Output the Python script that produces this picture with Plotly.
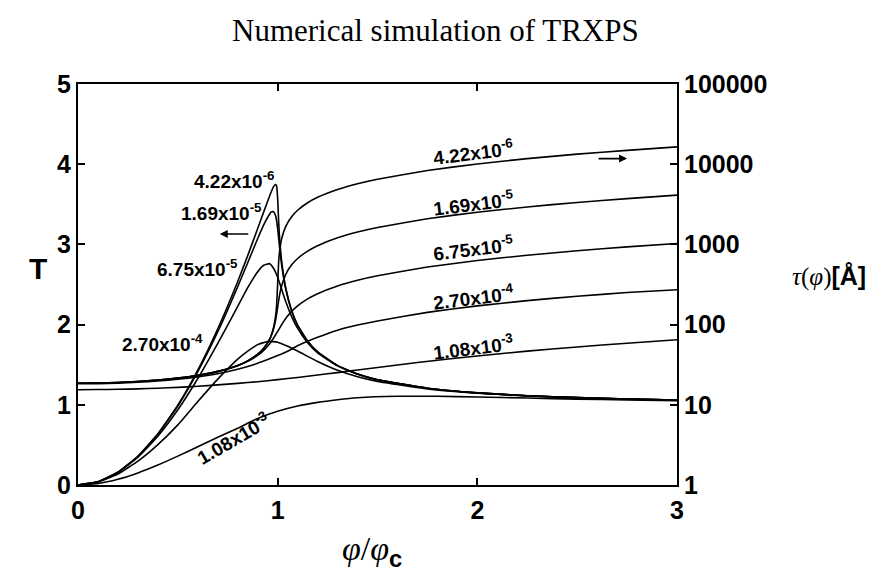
import plotly.graph_objects as go

# ---------------- data ----------------
# phi/phi_c grids
phi_a = [0, 0.1, 0.2, 0.3, 0.4, 0.5, 0.6, 0.7, 0.8, 0.85, 0.9, 0.93, 0.96, 0.97, 0.98,
         0.99, 0.995, 1.0, 1.005, 1.01, 1.02, 1.04, 1.07, 1.1, 1.15, 1.2, 1.3, 1.4, 1.5,
         1.75, 2.0, 2.25, 2.5, 2.75, 3.0]
phi_b = [0, 0.1, 0.2, 0.3, 0.4, 0.5, 0.6, 0.7, 0.8, 0.85, 0.9, 0.93, 0.96, 0.98, 1.0,
         1.02, 1.04, 1.07, 1.1, 1.15, 1.2, 1.3, 1.4, 1.5, 1.75, 2.0, 2.25, 2.5, 2.75, 3.0]
phi_c = [0, 0.1, 0.2, 0.3, 0.4, 0.5, 0.6, 0.7, 0.8, 0.85, 0.9, 0.95, 1.0, 1.05, 1.1,
         1.2, 1.3, 1.4, 1.5, 1.75, 2.0, 2.25, 2.5, 2.75, 3.0]
phi_d = [0, 0.1, 0.2, 0.3, 0.4, 0.5, 0.6, 0.7, 0.8, 0.9, 1.0, 1.1, 1.2, 1.3, 1.4, 1.6,
         1.8, 2.0, 2.25, 2.5, 2.75, 3.0]

# T (left axis)
T_422e6 = [0, 0.040, 0.160, 0.359, 0.638, 0.996, 1.433, 1.948, 2.538, 2.860, 3.198, 3.404,
           3.607, 3.669, 3.723, 3.750, 3.726, 3.573, 3.278, 3.065, 2.790, 2.461, 2.176,
           1.993, 1.793, 1.659, 1.489, 1.384, 1.313, 1.207, 1.149, 1.113, 1.089, 1.072, 1.060]
T_169e5 = [0, 0.040, 0.159, 0.357, 0.633, 0.985, 1.413, 1.911, 2.474, 2.772, 3.073, 3.243,
           3.380, 3.406, 3.406, 3.353, 3.290, 3.195, 3.078, 2.956, 2.744, 2.447, 2.171,
           1.991, 1.792, 1.659, 1.489, 1.384, 1.313, 1.207, 1.149, 1.113, 1.089, 1.072, 1.060]
T_675e5 = [0, 0.039, 0.156, 0.347, 0.609, 0.938, 1.328, 1.766, 2.227, 2.460, 2.660, 2.740,
           2.760, 2.700, 2.590, 2.440, 2.290, 2.099, 1.952, 1.773, 1.648, 1.485, 1.382,
           1.312, 1.207, 1.149, 1.113, 1.089, 1.072, 1.060]
T_270e4 = [0, 0.036, 0.137, 0.297, 0.504, 0.750, 1.040, 1.320, 1.570, 1.670, 1.750, 1.790,
           1.780, 1.730, 1.670, 1.540, 1.430, 1.350, 1.292, 1.199, 1.146, 1.111, 1.088,
           1.071, 1.059]
T_108e3 = [0, 0.019, 0.072, 0.151, 0.249, 0.360, 0.477, 0.595, 0.708, 0.830, 0.920, 0.985,
           1.030, 1.063, 1.088, 1.107, 1.106, 1.097, 1.084, 1.071, 1.061, 1.052]

# penetration depth tau [Angstrom] (right axis)
tau_422e6 = [18.6, 18.7, 19.0, 19.5, 20.3, 21.5, 23.3, 26.1, 31.0, 35.3, 42.8, 50.7, 66.4,
             76.5, 93.3, 130, 178, 329, 610, 832, 1175, 1667, 2213, 2667, 3304, 3864, 4831,
             5702, 6501, 8356, 10070, 11720, 13340, 14890, 16440]
tau_169e5 = [18.6, 18.7, 19.0, 19.5, 20.3, 21.5, 23.3, 26.1, 31.0, 35.3, 42.7, 50.5, 65.6,
             74.9, 89.3, 115, 136, 164, 199, 236, 305, 421, 556, 667, 826, 964, 1208, 1426,
             1626, 2089, 2518, 2931, 3334, 3724, 4111]
tau_675e5 = [18.6, 18.7, 19.0, 19.5, 20.3, 21.5, 23.2, 25.9, 30.7, 34.8, 41.3, 47.7, 57.8,
             68.1, 82.2, 99.8, 119, 146, 171, 209, 243, 303, 357, 406, 522, 630, 733, 834,
             931, 1028]
tau_270e4 = [18.3, 18.3, 18.6, 19.1, 19.8, 20.8, 22.3, 24.4, 27.7, 30.0, 32.9, 36.6, 41.1,
             46.6, 54.5, 69.4, 85.1, 98.6, 111, 142, 171, 199, 226, 251, 272]
tau_108e3 = [15.4, 15.5, 15.6, 15.8, 16.1, 16.5, 17.0, 17.7, 18.5, 19.4, 20.6, 21.9, 23.5,
             25.2, 27.2, 31.4, 36.0, 40.6, 46.7, 52.6, 58.6, 64.6]

x_ticks = [0, 1, 2, 3]
y_ticks = [0, 1, 2, 3, 4, 5]
tau_ticks = [1, 10, 100, 1000, 10000, 100000]
tau_tick_text = ["1", "10", "100", "1000", "10000", "100000"]

labels = ["4.22x10<sup>-6</sup>", "1.69x10<sup>-5</sup>", "6.75x10<sup>-5</sup>",
          "2.70x10<sup>-4</sup>", "1.08x10<sup>-3</sup>"]

# ---------------- figure ----------------
fig = go.Figure()
line = dict(color="black", width=1.6)

T_series = [(phi_a, T_422e6), (phi_a, T_169e5), (phi_b, T_675e5), (phi_c, T_270e4), (phi_d, T_108e3)]
tau_series = [(phi_a, tau_422e6), (phi_a, tau_169e5), (phi_b, tau_675e5), (phi_c, tau_270e4), (phi_d, tau_108e3)]

for (xs, ys) in T_series:
    fig.add_trace(go.Scatter(x=xs, y=ys, mode="lines", line=line, yaxis="y",
                             line_shape="spline", line_smoothing=0.4, showlegend=False))
for (xs, ys) in tau_series:
    fig.add_trace(go.Scatter(x=xs, y=ys, mode="lines", line=line, yaxis="y2",
                             line_shape="spline", line_smoothing=0.4, showlegend=False))

tick_font = dict(family="Liberation Sans", size=25, color="black", weight="bold")
lab_font = dict(family="Liberation Sans", size=19, color="black", weight="bold")

fig.update_layout(
    width=876, height=581,
    margin=dict(l=70, r=207, t=76, b=104),
    paper_bgcolor="white", plot_bgcolor="white",
    xaxis=dict(range=[0, 3], tickvals=x_ticks, showgrid=False, zeroline=False,
               showline=True, linecolor="black", linewidth=2, mirror="ticks",
               ticks="inside", ticklen=7, tickwidth=1.5, tickcolor="black",
               tickfont=tick_font, ticklabelstandoff=2),
    yaxis=dict(range=[0, 5], tickvals=y_ticks, showgrid=False, zeroline=False,
               showline=True, linecolor="black", linewidth=2,
               ticks="inside", ticklen=7, tickwidth=1.5, tickcolor="black",
               tickfont=tick_font),
    yaxis2=dict(overlaying="y", side="right", type="log", range=[0, 5],
                tickvals=tau_ticks, ticktext=tau_tick_text, showgrid=False,
                zeroline=False, showline=True, linecolor="black", linewidth=2,
                ticks="inside", ticklen=7, tickwidth=1.5, tickcolor="black",
                tickfont=tick_font),
)

annotations = []
# title
annotations.append(dict(text="Numerical simulation of TRXPS", xref="paper", yref="paper",
                        x=0.597, y=1, yshift=54, yanchor="middle", showarrow=False,
                        xanchor="center",
                        font=dict(family="Liberation Serif", size=31, color="black")))
# axis titles
annotations.append(dict(text="<b>T</b>", xref="paper", yref="paper", x=0, y=0.54,
                        xshift=-40, xanchor="center", yanchor="middle", showarrow=False,
                        font=dict(family="Liberation Sans", size=30, color="black")))
annotations.append(dict(text="<i>τ</i>(<i>φ</i>)<span style='font-family:Liberation Sans;font-weight:bold'>[Å]</span>",
                        xref="paper", yref="paper", x=1, y=0.52, xshift=152,
                        xanchor="center", yanchor="middle", showarrow=False,
                        font=dict(family="Liberation Serif", size=25, color="black")))
annotations.append(dict(text="<i>φ</i>/<i>φ</i><sub><span style='font-family:Liberation Sans;font-weight:bold'>c</span></sub>",
                        xref="paper", yref="paper", x=0.491, y=0, yshift=-66,
                        xanchor="center", yanchor="middle", showarrow=False,
                        font=dict(family="Liberation Serif", size=34, color="black")))

# curve labels for T curves (left axis coordinates)
T_lab_pos = [(0.995, 3.80, 0), (0.93, 3.40, 0), (0.81, 2.70, 0), (0.635, 1.77, 0)]
for lab, (x, y, a) in zip(labels[:4], T_lab_pos):
    annotations.append(dict(text=lab, x=x, y=y, xref="x", yref="y", xanchor="right",
                            showarrow=False, textangle=a, font=lab_font))
annotations.append(dict(text=labels[4], x=0.78, y=0.58, xref="x", yref="y",
                        showarrow=False, textangle=-30, font=lab_font))
# curve labels for tau curves (right-axis levels expressed on T scale)
tau_lab_pos = [4.15, 3.52, 2.95, 2.35, 1.72]
for lab, y in zip(labels, tau_lab_pos):
    annotations.append(dict(text=lab, x=1.98, y=y, xref="x", yref="y",
                            showarrow=False, textangle=-7, font=lab_font))
# arrows
annotations.append(dict(x=0.71, y=3.13, xref="x", yref="y", ax=30, ay=0, text="",
                        showarrow=True, arrowhead=2, arrowsize=1, arrowwidth=1.6,
                        arrowcolor="black"))
annotations.append(dict(x=2.75, y=4.07, xref="x", yref="y", ax=-30, ay=0, text="",
                        showarrow=True, arrowhead=2, arrowsize=1, arrowwidth=1.6,
                        arrowcolor="black"))

fig.update_layout(annotations=annotations)
fig.write_html("out.html")
